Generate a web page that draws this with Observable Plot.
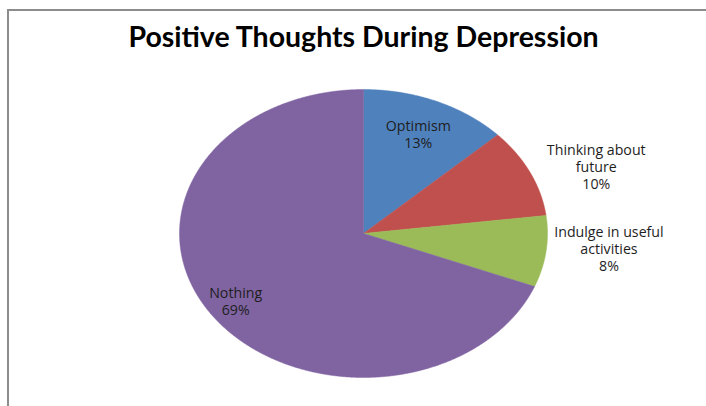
<!DOCTYPE html>
<html>
<head>
<meta charset="utf-8">
<script src="https://cdn.jsdelivr.net/npm/d3@7"></script>
<script src="https://cdn.jsdelivr.net/npm/@observablehq/plot@0.6"></script>
<style>
  html, body { margin: 0; padding: 0; background: #fff; }
  #wrap { position: relative; width: 706px; height: 406px; overflow: hidden; }
  #frame { position: absolute; left: 7px; top: 9px; width: 760px; height: 460px;
           border-left: 2px solid #8c8c8c; border-top: 2px solid #8c8c8c; }
  #chart { position: absolute; left: 0; top: 0; }
</style>
</head>
<body>
<div id="wrap"><div id="frame"></div><div id="chart"></div></div>
<script>
// ---- data ----
const title = "Positive Thoughts During Depression";
const categories = ["Optimism", "Thinking about\nfuture", "Indulge in useful\nactivities", "Nothing"];
const shares = [13, 10, 8, 69];
const colors = ["#4F81BD", "#C0504D", "#9BBB59", "#8064A2"];

// ---- label layout (style, not data) ----
const labelLayout = [
  {r: 0.75, dx: 0, dy: 0},
  {r: 1.35, dx: 8, dy: 16},
  {r: 1.35, dx: -1, dy: -9},
  {r: 0.84, dx: 0, dy: 0}
];

const total = d3.sum(shares);
const slices = [];
let cum = 0;
shares.forEach((v, i) => {
  const a0 = cum / total * 2 * Math.PI;
  cum += v;
  const a1 = cum / total * 2 * Math.PI;
  slices.push({name: categories[i], value: v, a0, a1, mid: (a0 + a1) / 2, i});
});

// polygon points for each slice (unit-circle data space, angle clockwise from 12 o'clock)
const pts = [];
for (const s of slices) {
  pts.push({k: s.name, x: 0, y: 0});
  const n = Math.max(2, Math.ceil((s.a1 - s.a0) / (Math.PI / 720)));
  for (let j = 0; j <= n; j++) {
    const a = s.a0 + (s.a1 - s.a0) * j / n;
    pts.push({k: s.name, x: Math.sin(a), y: Math.cos(a)});
  }
  pts.push({k: s.name, x: 0, y: 0});
}

const labelMarks = slices.map((s, i) => {
  const L = labelLayout[i];
  return Plot.text([s], {
    x: d => L.r * Math.sin(d.mid),
    y: d => L.r * Math.cos(d.mid),
    text: d => `${d.name}\n${d.value}%`,
    dx: L.dx, dy: L.dy,
    fontSize: 14.2,
    lineHeight: 1.2,
    fill: "#1e1e1e",
    textAnchor: "middle",
    lineAnchor: "middle",
    fontFamily: "'Open Sans', sans-serif"
  });
});

const plot = Plot.plot({
  width: 706,
  height: 406,
  marginLeft: 179,
  marginRight: 159,
  marginTop: 89,
  marginBottom: 29,
  style: {fontFamily: "Lato, 'Open Sans', sans-serif", background: "transparent", overflow: "visible"},
  x: {domain: [-1, 1], axis: null},
  y: {domain: [-1, 1], axis: null},
  color: {domain: slices.map(s => s.name), range: colors},
  marks: [
    Plot.line(pts, {x: "x", y: "y", z: "k", fill: "k", stroke: "k", strokeWidth: 0.5, curve: "linear"}),
    ...labelMarks,
    Plot.text([title], {
      frameAnchor: "top", dy: -52, lineAnchor: "middle",
      text: d => d,
      fontSize: 28.5, fontWeight: "bold", fill: "#000",
      fontFamily: "Lato, sans-serif"
    })
  ]
});
document.getElementById("chart").appendChild(plot);
</script>
</body>
</html>
